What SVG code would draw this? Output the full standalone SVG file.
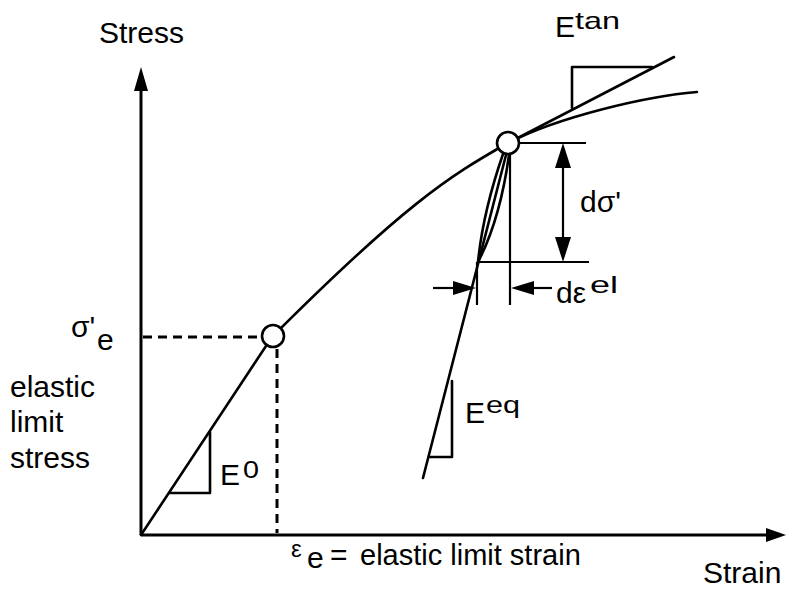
<svg xmlns="http://www.w3.org/2000/svg" width="791" height="589" viewBox="0 0 791 589">
<style>
.ln{fill:none;stroke:#000;stroke-width:2.6;stroke-linecap:round;stroke-linejoin:round}
.thin{fill:none;stroke:#000;stroke-width:2.2}
.ax{fill:none;stroke:#000;stroke-width:3}
.dash{fill:none;stroke:#000;stroke-width:3;stroke-dasharray:9 6}
.ah{fill:#000;stroke:none}
.pt{fill:#fff;stroke:#000;stroke-width:2.6}
text{font-family:"Liberation Sans",Arial,sans-serif;font-size:30px;fill:#000}
.sup{font-size:24px}
</style>
<rect width="791" height="589" fill="#fff"/>
<g id="connectors">
  <line class="ax" x1="141" y1="535" x2="141" y2="86"/>
  <polygon class="ah" points="141,67 134,91 148,91"/>
  <line class="ax" x1="141" y1="535" x2="770" y2="535"/>
  <polygon class="ah" points="786,535 766,528 766,542"/>
  <line class="dash" x1="143" y1="337" x2="261" y2="337"/>
  <line class="dash" x1="277" y1="349" x2="277" y2="533"/>
  <path class="ln" d="M141,535 L272,337 C402,207 449,176 508,143 C558,117 647,96 697,92"/>
  <polyline class="ln" points="170,493 210,493 210,432"/>
  <line class="ln" x1="508" y1="143" x2="674" y2="57"/>
  <polyline class="ln" points="572,108 572,67 652,67"/>
  <line class="ln" x1="506" y1="155" x2="423" y2="478"/>
  <path class="ln" d="M503,154 Q483,212 478,262"/>
  <path class="ln" d="M509,155 Q500,220 478,262"/>
  <polyline class="ln" points="452,381 452,457 429,457"/>
  <line class="thin" x1="520" y1="143" x2="586" y2="143"/>
  <line class="thin" x1="477" y1="262" x2="589" y2="262"/>
  <line class="thin" x1="563" y1="160" x2="563" y2="245"/>
  <polygon class="ah" points="563,143 555,168 571,168"/>
  <polygon class="ah" points="563,262 555,237 571,237"/>
  <line class="thin" x1="510" y1="154" x2="510" y2="305"/>
  <line class="thin" x1="477" y1="262" x2="477" y2="305"/>
  <line class="thin" x1="433" y1="288" x2="460" y2="288"/>
  <polygon class="ah" points="476,288 453,281 453,295"/>
  <line class="thin" x1="528" y1="288" x2="552" y2="288"/>
  <polygon class="ah" points="511,288 534,281 534,295"/>
</g>
<g id="elastic-limit-point"><circle class="pt" cx="273" cy="336" r="11"/></g>
<g id="current-point"><circle class="pt" cx="508" cy="143" r="11"/></g>
<g id="label-stress"><text x="99" y="43">Stress</text></g>
<g id="label-strain"><text x="703" y="583">Strain</text></g>
<g id="label-sigma-e"><text x="71" y="337">σ'</text><text x="97" y="350">e</text></g>
<g id="label-elastic-limit-stress">
  <text x="10" y="397">elastic</text>
  <text x="10" y="432">limit</text>
  <text x="10" y="468">stress</text>
</g>
<g id="label-eps-e">
  <text x="291" y="557" style="font-size:24px">ε</text>
  <text x="307" y="568">e</text>
  <text x="330" y="565">=</text>
  <text x="360" y="565" style="font-size:29px">elastic limit strain</text>
</g>
<g id="label-E0"><text x="220" y="485">E</text><text class="sup" x="243" y="478" textLength="16" lengthAdjust="spacingAndGlyphs">0</text></g>
<g id="label-Etan"><text x="555" y="37">E</text><text class="sup" x="575" y="29" textLength="45" lengthAdjust="spacingAndGlyphs">tan</text></g>
<g id="label-Eeq"><text x="465" y="423">E</text><text class="sup" x="486" y="413" textLength="34" lengthAdjust="spacingAndGlyphs">eq</text></g>
<g id="label-dsigma"><text x="580" y="212">dσ'</text></g>
<g id="label-deps"><text x="556" y="303">dε</text><text class="sup" x="590" y="293" textLength="28" lengthAdjust="spacingAndGlyphs">el</text></g>
</svg>
